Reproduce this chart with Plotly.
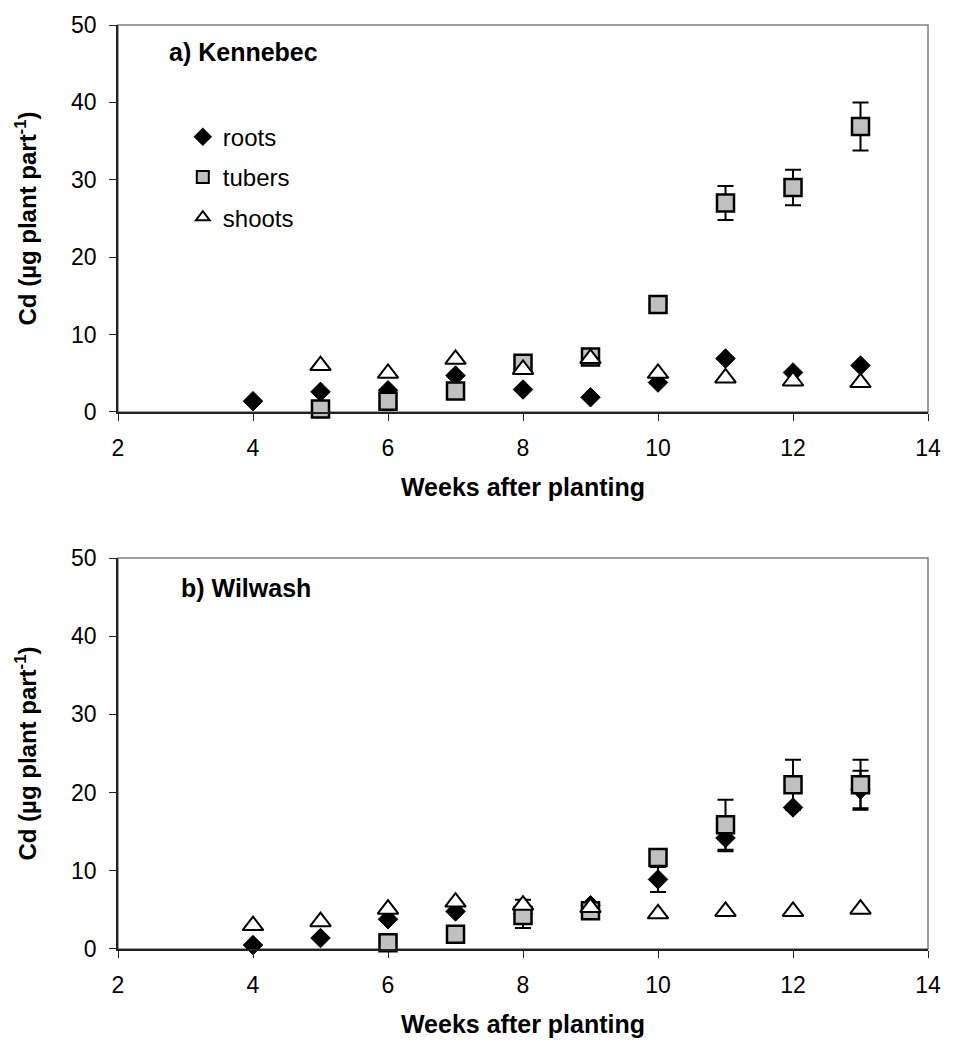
import plotly.graph_objects as go

# ---------------- data ----------------
# a) Kennebec
k_roots_weeks = [4, 5, 6, 7, 8, 9, 10, 11, 12, 13]
k_roots = [1.4, 2.6, 2.8, 4.7, 2.9, 1.9, 3.8, 6.9, 5.1, 6.0]
k_roots_err = [0, 0, 0, 0, 0, 0, 0, 0, 0, 0]

k_tubers_weeks = [5, 6, 7, 8, 9, 10, 11, 12, 13]
k_tubers = [0.4, 1.4, 2.7, 6.3, 7.1, 13.9, 27.0, 29.0, 36.9]
k_tubers_err = [0, 0, 0, 0, 0, 0, 2.2, 2.3, 3.1]

k_shoots_weeks = [5, 6, 7, 8, 9, 10, 11, 12, 13]
k_shoots = [6.0, 5.0, 6.8, 5.5, 6.9, 5.0, 4.4, 4.0, 3.8]

# b) Wilwash
w_roots_weeks = [4, 5, 6, 7, 8, 9, 10, 11, 12, 13]
w_roots = [0.5, 1.4, 3.8, 4.8, 4.5, 5.6, 8.9, 14.2, 18.1, 20.4]
w_roots_err = [0, 0, 0, 0, 1.8, 0, 1.6, 1.7, 0, 2.4]

w_tubers_weeks = [6, 7, 8, 9, 10, 11, 12, 13]
w_tubers = [0.8, 1.9, 4.3, 4.9, 11.7, 15.9, 21.0, 21.0]
w_tubers_err = [0, 0, 0, 0, 0, 3.2, 3.2, 3.2]

w_shoots_weeks = [4, 5, 6, 7, 8, 9, 10, 11, 12, 13]
w_shoots = [3.0, 3.5, 5.1, 6.0, 5.6, 5.3, 4.5, 4.8, 4.8, 5.1]

x_ticks = [2, 4, 6, 8, 10, 12, 14]
y_ticks = [0, 10, 20, 30, 40, 50]
panel_labels = ["a) Kennebec", "b) Wilwash"]
series_names = ["roots", "tubers", "shoots"]
x_title = "Weeks after planting"
y_title = "Cd (µg plant part<sup>-1</sup>)"

FONT = "Arial, Liberation Sans, sans-serif"

fig = go.Figure()

def err(vals):
    return dict(type="data", array=vals, visible=True, color="black",
                thickness=2, width=8)

panels = [
    ("x", "y", k_roots_weeks, k_roots, k_roots_err, k_tubers_weeks, k_tubers,
     k_tubers_err, k_shoots_weeks, k_shoots, True),
    ("x2", "y2", w_roots_weeks, w_roots, w_roots_err, w_tubers_weeks, w_tubers,
     w_tubers_err, w_shoots_weeks, w_shoots, False),
]

for (xa, ya, rw, rv, re, tw, tv, te, sw, sv, show) in panels:
    fig.add_trace(go.Scatter(
        x=rw, y=rv, xaxis=xa, yaxis=ya, mode="markers", name=series_names[0],
        legendgroup="r", showlegend=show, cliponaxis=False,
        error_y=err(re),
        marker=dict(symbol="diamond", size=15, color="black",
                    line=dict(color="black", width=1))))
    fig.add_trace(go.Scatter(
        x=tw, y=tv, xaxis=xa, yaxis=ya, mode="markers", name=series_names[1],
        legendgroup="t", showlegend=show, cliponaxis=False,
        error_y=err(te),
        marker=dict(symbol="square", size=17, color="#c0c0c0",
                    line=dict(color="black", width=2.5))))
    fig.add_trace(go.Scatter(
        x=sw, y=sv, xaxis=xa, yaxis=ya, mode="markers", name=series_names[2],
        legendgroup="s", showlegend=show, cliponaxis=False,
        marker=dict(symbol="triangle-up", size=18, color="white",
                    line=dict(color="black", width=2))))

axis_common = dict(
    showgrid=False, zeroline=False, showline=True, linecolor="#222222",
    linewidth=1.5, ticks="outside", ticklen=7, tickwidth=1, tickcolor="#222222",
    tickfont=dict(family=FONT, size=23, color="black"),
)

xaxis_cfg = dict(axis_common, range=[2, 14], tickvals=x_ticks,
                 ticklabelstandoff=8,
                 title=dict(text="<b>" + x_title + "</b>", standoff=18,
                            font=dict(family=FONT, size=25, color="black")))
yaxis_cfg = dict(axis_common, range=[0, 50], tickvals=y_ticks,
                 ticklabelstandoff=8,
                 title=dict(text="<b>" + y_title + "</b>", standoff=28,
                            font=dict(family=FONT, size=24, color="black")))

fig.update_layout(
    width=953, height=1046,
    margin=dict(l=118, r=15, t=20, b=90),
    paper_bgcolor="white", plot_bgcolor="white",
    font=dict(family=FONT, color="black"),
    xaxis=dict(xaxis_cfg, anchor="y", domain=[0, 1]),
    yaxis=dict(yaxis_cfg, anchor="x", domain=[0.5812, 1]),
    xaxis2=dict(xaxis_cfg, anchor="y2", domain=[0, 1]),
    yaxis2=dict(yaxis_cfg, anchor="x2", domain=[0, 0.4231]),
    legend=dict(x=0.08, y=0.903, xanchor="left", yanchor="top",
                bgcolor="rgba(0,0,0,0)", traceorder="grouped",
                tracegroupgap=6, itemsizing="constant", itemwidth=30,
                font=dict(family=FONT, size=24, color="black")),
    showlegend=True,
)

# plot frame (top and right borders in grey)
for xr, yr in [("x domain", "y domain"), ("x2 domain", "y2 domain")]:
    fig.add_shape(type="rect", xref=xr, yref=yr, x0=0, x1=1, y0=0, y1=1,
                  line=dict(color="#808080", width=1.5), layer="below")

# panel labels
fig.add_annotation(text="<b>" + panel_labels[0] + "</b>", xref="x domain",
                   yref="y domain", x=0.06, y=0.93, xanchor="left",
                   yanchor="middle", showarrow=False,
                   font=dict(family=FONT, size=25, color="black"))
fig.add_annotation(text="<b>" + panel_labels[1] + "</b>", xref="x2 domain",
                   yref="y2 domain", x=0.0756, y=0.924, xanchor="left",
                   yanchor="middle", showarrow=False,
                   font=dict(family=FONT, size=25, color="black"))

fig.write_html(
    "out.html",
    config={"displayModeBar": False},
    post_script="document.body.style.margin='0';"
                "document.body.style.overflow='hidden';"
                "document.documentElement.style.overflow='hidden';",
)
